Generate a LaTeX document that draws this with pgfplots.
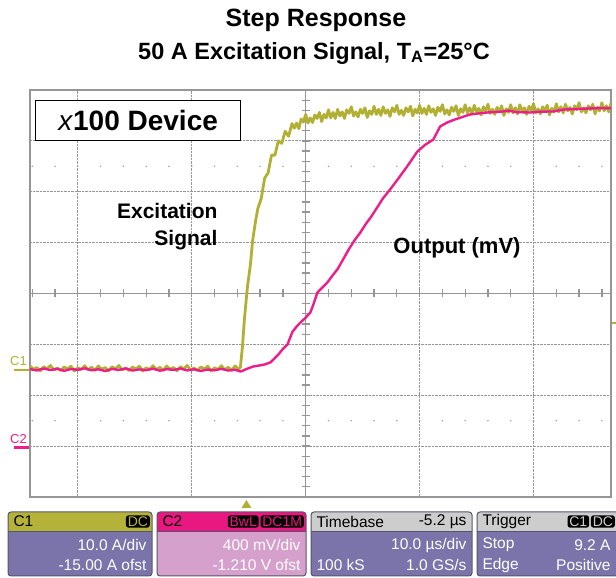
\documentclass[border=0pt]{standalone}
\usepackage{fontspec}
\setmainfont{Liberation Sans}
\usepackage{pgfplots}
\pgfplotsset{compat=1.18}
\definecolor{olivec}{RGB}{178,176,52}
\definecolor{pinkc}{RGB}{236,30,138}
\definecolor{framegray}{RGB}{150,150,150}
\definecolor{boxbody}{RGB}{122,116,170}
\definecolor{boxpinkbody}{RGB}{214,160,204}
\definecolor{hdrolive}{RGB}{180,178,56}
\definecolor{hdrpink}{RGB}{232,24,128}
\definecolor{hdrgrey}{RGB}{205,205,205}
\definecolor{boxedge}{RGB}{85,85,105}

% x0, x1, header colour, body colour
\newcommand{\scopebox}[4]{%
  \begin{scope}
    \clip[rounded corners=3pt] (#1pt,2pt) rectangle (#2pt,66pt);
    \fill[#4] (#1pt,2pt) rectangle (#2pt,66pt);
    \fill[#3] (#1pt,47pt) rectangle (#2pt,66pt);
  \end{scope}
  \draw[boxedge, line width=0.8pt] (#1pt,47pt) -- (#2pt,47pt);
  \draw[boxedge, line width=1pt, rounded corners=3pt] (#1pt,2pt) rectangle (#2pt,66pt);
}
\newcommand{\boxfont}{\fontsize{15.5}{17}\selectfont}
\tikzset{badge/.style={fill=black, rounded corners=2.5pt, inner xsep=1.8pt,
    inner ysep=1.2pt, anchor=east, font=\fontsize{14}{15}\selectfont}}
\pgfplotsset{screen/.style={
  at={(30pt,81pt)}, anchor=south west,
  scale only axis, width=581pt, height=407pt, xmin=-19, xmax=32}}

\begin{document}
\begin{tikzpicture}
\useasboundingbox (0pt,0pt) rectangle (616pt,578pt);

% screen grid: time in us (t=0 at trigger), C1 scale in A
\begin{axis}[
  screen, ymin=-25, ymax=55,
  axis line style={framegray, line width=1.6pt},
  xtick={-14.8,-4.8,15.2,25.2}, ytick={-15,-5,5,25,35,45},
  xticklabels={}, yticklabels={},
  major tick length=0pt,
  grid=major, major grid style={framegray, densely dotted, line width=1pt},
]
\draw[framegray, line width=1.6pt] (axis cs:5.2,-25) -- (axis cs:5.2,55);
\draw[framegray, line width=1.6pt] (axis cs:-19,15) -- (axis cs:32,15);
\coordinate (O) at (axis cs:5.2,15);
\coordinate (gnd1) at (axis cs:-19,0);
\coordinate (trglvl) at (axis cs:32,9.2);
\coordinate (trgpos) at (axis cs:0,-25);
\end{axis}

% minor ticks on the centre cross (2 us and 2 A apart) and dot rows
\foreach \k in {-12,...,13} {
  \draw[framegray, line width=1.3pt] ([xshift=\k*22.784pt]O) ++(0,-4pt) -- ++(0,8pt);
  \fill[framegray] ([shift={(\k*22.784pt,127.19pt)}]O) circle (0.8pt);
  \fill[framegray] ([shift={(\k*22.784pt,-127.19pt)}]O) circle (0.8pt);
}
\foreach \k in {-19,...,19} {
  \draw[framegray, line width=1.3pt] ([yshift=\k*10.175pt]O) ++(-4pt,0) -- ++(8pt,0);
}

% C1: excitation current (A)
\begin{axis}[screen, ymin=-25, ymax=55, hide axis]
\addplot[olivec, line width=2.8pt, line join=round] coordinates {
(-19.0,0.75) (-18.7,0.1) (-18.4,0.45) (-18.1,-0.2) (-17.8,0.6) (-17.5,0.2)
(-17.2,0.85) (-16.9,-0.05) (-16.6,0.35) (-16.3,-0.15) (-16.0,0.55) (-15.7,0.15)
(-15.4,0.7) (-15.1,-0.25) (-14.8,0.4) (-14.5,0.05) (-14.2,0.8) (-13.9,0.0)
(-13.6,0.5) (-13.3,-0.1) (-13.0,0.75) (-12.7,0.1) (-12.4,0.45) (-12.1,-0.2)
(-11.8,0.6) (-11.5,0.2) (-11.2,0.85) (-10.9,-0.05) (-10.6,0.35) (-10.3,-0.15)
(-10.0,0.55) (-9.7,0.15) (-9.4,0.7) (-9.1,-0.25) (-8.8,0.4) (-8.5,0.05)
(-8.2,0.8) (-7.9,0.0) (-7.6,0.5) (-7.3,-0.1) (-7.0,0.75) (-6.7,0.1)
(-6.4,0.45) (-6.1,-0.2) (-5.8,0.6) (-5.5,0.2) (-5.2,0.85) (-4.9,-0.05)
(-4.6,0.35) (-4.3,-0.15) (-4.0,0.55) (-3.7,0.15) (-3.4,0.7) (-3.1,-0.25)
(-2.8,0.4) (-2.5,0.05) (-2.2,0.8) (-1.9,0.0) (-1.6,0.5) (-1.3,-0.1)
(-1.0,0.75) (-0.7,0.1)
(-0.53,0.5) (-0.35,4.6) (-0.18,9.9) (0.09,16.4) (0.35,20.7) (0.53,25.2)
(0.79,29.1) (1.0,31.7) (1.3,33.7) (1.6,37.7) (1.9,38.7) (2.2,42.2)
(2.5,42.2) (2.8,45.0) (3.1,44.5) (3.4,46.9) (3.7,45.9)
(4.0,48.4) (4.2,47.5) (4.4,48.5) (4.6,47.4) (4.8,49.3) (5.0,48.7)
(5.2,50.2) (5.4,48.5) (5.6,49.5) (5.8,48.6) (6.0,50.1) (6.2,49.4)
(6.4,50.6) (6.6,48.8) (6.8,50.2) (7.0,49.5) (7.2,51.1) (7.4,49.5)
(7.6,50.6) (7.8,49.4) (8.0,51.2) (8.2,49.9) (8.4,50.7) (8.6,49.4)
(8.8,51.1) (9.0,50.4) (9.2,51.7) (9.4,49.9) (9.6,50.7) (9.8,49.7)
(10.0,51.2) (10.2,50.4) (10.4,51.5) (10.6,49.6) (10.8,50.9) (11.0,50.2)
(11.2,51.8) (11.4,50.2) (11.6,51.2) (11.8,50.0) (12.0,51.7) (12.2,50.4)
(12.4,51.1) (12.6,49.8) (12.8,51.5) (13.0,50.7) (13.2,52.0) (13.4,50.2)
(13.6,51.0) (13.8,50.0) (14.0,51.5) (14.2,50.7) (14.4,51.8) (14.6,49.9)
(14.8,51.2) (15.0,50.5) (15.2,52.0) (15.4,50.4) (15.6,51.4) (15.8,50.2)
(16.0,51.9) (16.2,50.6) (16.4,51.3) (16.6,50.0) (16.8,51.6) (17.0,50.8)
(17.2,52.1) (17.4,50.3) (17.6,51.1) (17.8,50.1) (18.0,51.6) (18.2,50.8)
(18.4,51.9) (18.6,50.0) (18.8,51.3) (19.0,50.6) (19.2,52.1) (19.4,50.5)
(19.6,51.5) (19.8,50.3) (20.0,52.0) (20.2,50.7) (20.4,51.4) (20.6,50.1)
(20.8,51.7) (21.0,50.9) (21.2,52.2) (21.4,50.4) (21.6,51.2) (21.8,50.2)
(22.0,51.6) (22.2,50.8) (22.4,51.9) (22.6,50.0) (22.8,51.3) (23.0,50.6)
(23.2,52.1) (23.4,50.5) (23.6,51.5) (23.8,50.3) (24.0,52.1) (24.2,50.8)
(24.4,51.5) (24.6,50.2) (24.8,51.8) (25.0,51.0) (25.2,52.3) (25.4,50.5)
(25.6,51.3) (25.8,50.3) (26.0,51.7) (26.2,50.9) (26.4,52.0) (26.6,50.1)
(26.8,51.4) (27.0,50.7) (27.2,52.3) (27.4,50.7) (27.6,51.7) (27.8,50.5)
(28.0,52.2) (28.2,50.9) (28.4,51.6) (28.6,50.3) (28.8,51.9) (29.0,51.1)
(29.2,52.5) (29.4,50.7) (29.6,51.5) (29.8,50.5) (30.0,51.9) (30.2,51.1)
(30.4,52.2) (30.6,50.3) (30.8,51.6) (31.0,50.9) (31.2,52.5) (31.4,50.9)
(31.6,51.9) (31.8,50.7) (32.0,52.4)
};
\end{axis}

% C2: output (mV), 400 mV/div, -1.210 V offset
\begin{axis}[screen, ymin=-390, ymax=2810, hide axis]
\addplot[pinkc, line width=2.4pt, line join=round] coordinates {
(-19.0,615) (-18.4,605) (-17.8,620) (-17.2,608) (-16.6,618) (-16.0,602)
(-15.4,616) (-14.8,610) (-14.2,622) (-13.6,606) (-13.0,614) (-12.4,600)
(-11.8,617) (-11.2,609) (-10.6,621) (-10.0,604) (-9.4,613) (-8.8,607)
(-8.2,619) (-7.6,603) (-7.0,615) (-6.4,609) (-5.8,620) (-5.2,605)
(-4.6,614) (-4.0,601) (-3.4,612) (-2.8,606) (-2.2,618) (-1.6,604)
(-1.0,611) (-0.5,596) (0.0,616) (0.6,636) (1.2,645) (1.6,652)
(2.1,668) (2.37,691) (2.8,730) (3.16,770) (3.6,809) (4.04,909)
(4.4,950) (4.74,982) (5.2,1020) (5.61,1061) (5.9,1130) (6.23,1218)
(6.7,1260) (7.1,1296) (7.5,1345) (7.98,1399) (8.5,1480) (9.0,1560)
(9.5,1630) (10.0,1690) (10.5,1760) (10.9,1807) (11.5,1890) (12.0,1960)
(12.6,2027) (13.3,2110) (14.1,2208) (15.0,2326) (15.7,2380) (16.4,2420)
(17.0,2523) (17.6,2554) (18.2,2575) (18.8,2593) (19.6,2617) (20.3,2625)
(21.1,2633) (22.5,2641) (23.0,2648) (23.7,2636) (24.9,2633) (25.8,2640)
(26.9,2641) (27.8,2656) (28.8,2660) (29.9,2664) (31.0,2668) (32.0,2668)
};
\coordinate (gnd2) at (axis cs:-19,0);
\end{axis}

% channel and trigger markers round the screen
\draw[olivec, line width=2.5pt] (gnd1) ++(-16pt,0) -- ++(15pt,0);
\node[olivec, anchor=south west, inner sep=0pt, font=\fontsize{13}{14}\selectfont]
  at ([shift={(-20pt,4pt)}]gnd1) {C1};
\draw[pinkc, line width=2.5pt] (gnd2) ++(-16pt,0) -- ++(15pt,0);
\node[pinkc, anchor=south west, inner sep=0pt, font=\fontsize{13}{14}\selectfont]
  at ([shift={(-20pt,4pt)}]gnd2) {C2};
\draw[olivec, line width=2.5pt] (trglvl) ++(1pt,0) -- ++(5pt,0);
\fill[olivec] ([shift={(0,-3pt)}]trgpos) -- ++(-5pt,-8pt) -- ++(10pt,0) -- cycle;

% titles
\node[font=\bfseries\fontsize{25}{28}\selectfont] at (316pt,558pt) {Step Response};
\node[font=\bfseries\fontsize{23.5}{27}\selectfont] at (314pt,525pt)
  {50 A Excitation Signal, T\textsubscript{A}=25\textdegree C};

% annotations
\node[draw=black, line width=1.3pt, fill=white, anchor=north west,
  minimum width=205pt, minimum height=40pt, inner sep=0pt,
  font=\bfseries\fontsize{28}{30}\selectfont] at (35pt,478pt)
  {\textnormal{\itshape x}100 Device};
\node[font=\bfseries\fontsize{21}{24}\selectfont, anchor=east] at (221pt,367pt) {Excitation};
\node[font=\bfseries\fontsize{21}{24}\selectfont, anchor=east] at (221pt,338pt) {Signal};
\node[font=\bfseries\fontsize{22}{24}\selectfont] at (457pt,330pt) {Output (mV)};

% readout boxes
\scopebox{8}{152}{hdrolive}{boxbody}
\node[anchor=west, font=\boxfont] at (10pt,56.5pt) {C1};
\node[badge, text=hdrolive] at (150pt,56.5pt) {DC};
\node[anchor=east, white, font=\boxfont] at (150pt,33pt) {10.0 A/div};
\node[anchor=east, white, font=\boxfont] at (150pt,13pt) {-15.00 A ofst};

\scopebox{157}{306}{hdrpink}{boxpinkbody}
\node[anchor=west, font=\boxfont] at (159pt,56.5pt) {C2};
\node[badge, text=hdrpink] (dc1m) at (304pt,56.5pt) {DC1M};
\node[badge, text=hdrpink] at ([xshift=-1.5pt]dc1m.west) {BwL};
\node[anchor=east, white, font=\boxfont] at (304pt,33pt) {400 mV/div};
\node[anchor=east, white, font=\boxfont] at (304pt,13pt) {-1.210 V ofst};

\scopebox{311}{472}{hdrgrey}{boxbody}
\node[anchor=west, font=\boxfont] at (313pt,56.5pt) {Timebase};
\node[anchor=east, font=\boxfont] at (470pt,56.5pt) {-5.2 µs};
\node[anchor=east, white, font=\boxfont] at (470pt,33pt) {10.0 µs/div};
\node[anchor=west, white, font=\boxfont] at (313pt,13pt) {100 kS};
\node[anchor=east, white, font=\boxfont] at (470pt,13pt) {1.0 GS/s};

\scopebox{477}{620}{hdrgrey}{boxbody}
\node[anchor=west, font=\boxfont] at (479pt,56.5pt) {Trigger};
\node[badge, text=hdrgrey] (tdc) at (615pt,56.5pt) {DC};
\node[badge, text=hdrgrey] at ([xshift=-1.5pt]tdc.west) {C1};
\node[anchor=west, white, font=\boxfont] at (479pt,33pt) {Stop};
\node[anchor=east, white, font=\boxfont] at (614pt,33pt) {9.2 A};
\node[anchor=west, white, font=\boxfont] at (479pt,13pt) {Edge};
\node[anchor=east, white, font=\boxfont] at (614pt,13pt) {Positive};
\end{tikzpicture}
\end{document}
